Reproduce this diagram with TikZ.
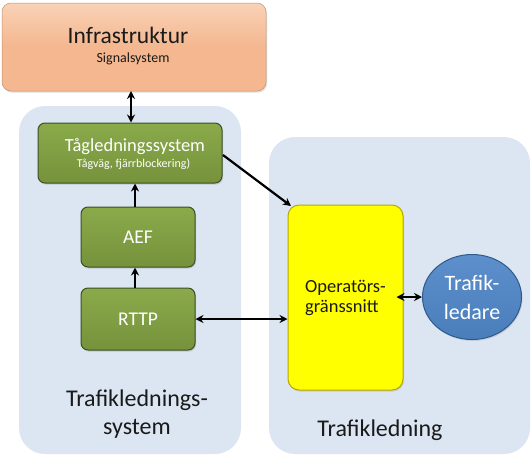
\documentclass[tikz,border=0pt]{standalone}
\usepackage{fontspec}
\setmainfont{Carlito}
\usetikzlibrary{arrows.meta,shapes.geometric,shadows}
\definecolor{panelblue}{HTML}{DCE6F2}
\definecolor{orangefill}{HTML}{F4B78F}
\definecolor{orangetop}{HTML}{F9D2B6}
\definecolor{greenfill}{HTML}{76923C}
\definecolor{greentop}{HTML}{8AAA4A}
\definecolor{greenedge}{HTML}{3D4F24}
\definecolor{yellowfill}{HTML}{FFFF00}
\definecolor{yellowedge}{HTML}{B5A800}
\definecolor{bluefill}{HTML}{4A7EBB}
\definecolor{bluetop}{HTML}{5C8FCB}
\definecolor{blueedge}{HTML}{2F5A8C}
\definecolor{textdark}{HTML}{1A1A1A}
\tikzset{
  x=1pt,y=-1pt,
  panel/.style={fill=panelblue,draw=none,rounded corners=26pt},
  orangebox/.style={rounded corners=9pt,top color=orangetop,bottom color=orangefill,middle color=orangefill,draw=orangefill!80!black,line width=0.5pt,drop shadow={opacity=0.25,shadow xshift=1pt,shadow yshift=-1.5pt}},
  greenbox/.style={rounded corners=7pt,top color=greentop,bottom color=greenfill,draw=greenedge,line width=1pt,text=white,align=center,drop shadow={opacity=0.3,shadow xshift=1pt,shadow yshift=-1.5pt}},
  yellowbox/.style={rounded corners=11pt,fill=yellowfill,draw=yellowedge,line width=1pt,drop shadow={opacity=0.25,shadow xshift=1pt,shadow yshift=-1.5pt}},
  bluenode/.style={ellipse,top color=bluetop,bottom color=bluefill,draw=blueedge,line width=1pt,text=white,align=center,inner sep=0pt,drop shadow={opacity=0.25,shadow xshift=1pt,shadow yshift=-1.5pt}},
  conn/.style={line width=2.2pt,-{Stealth[length=8pt,width=8pt]}},
  biconn/.style={line width=2.2pt,{Stealth[length=8pt,width=8pt]}-{Stealth[length=8pt,width=8pt]}},
}
\begin{document}
\begin{tikzpicture}
\useasboundingbox (0,0) rectangle (532,456);
% panels
\path[panel] (19,106) rectangle (241,454);
\path[panel] (269,137) rectangle (530,454);
% infrastruktur
\path[orangebox] (2,3) rectangle (266,91);
\node (infra) at (134,47) [minimum width=264pt,minimum height=88pt] {};
\node[text=textdark,font=\fontsize{23.5}{26}\selectfont,anchor=base] (infratxt) at (128,43) {Infrastruktur};
\node[text=textdark,font=\fontsize{14}{16}\selectfont,anchor=base] (sigtxt) at (133,62) {Signalsystem};
% green boxes
\node[greenbox,minimum width=184pt,minimum height=60pt] (tag) at (130,153) {};
\node[text=white,font=\fontsize{18.5}{20}\selectfont,anchor=base] (tagtxt) at (135,151) {Tågledningssystem};
\node[text=white,font=\fontsize{12}{14}\selectfont,anchor=base] (tagsub) at (133.5,167) {Tågväg, fjärrblockering)};
\node[greenbox,minimum width=114pt,minimum height=60pt,font=\fontsize{19.5}{21}\selectfont] (aef) at (138,237) {AEF};
\node[greenbox,minimum width=114pt,minimum height=62pt,font=\fontsize{19.5}{21}\selectfont] (rttp) at (138,319) {RTTP};
% yellow
\node[yellowbox,minimum width=115pt,minimum height=185pt,align=left,text=textdark,font=\fontsize{18.5}{20}\selectfont] (op) at (345.5,297.5) {Operatörs-\\gränssnitt};
% ellipse
\node[bluenode,minimum width=99pt,minimum height=85pt,font=\fontsize{22}{29}\selectfont] (traf) at (472,297) {Trafik-\\ledare};
% panel labels
\node[align=center,text=textdark,font=\fontsize{24}{28}\selectfont] (lbl1) at (137,414) {Trafiklednings-\\system};
\node[text=textdark,font=\fontsize{24}{26}\selectfont] (lbl2) at (380,430) {Trafikledning};
% connectors
\coordinate (i1) at (131,91);
\draw[biconn] (i1) -- (i1 |- tag.north);
\coordinate (a1) at (135,207);
\draw[conn] (a1) -- (a1 |- tag.south);
\coordinate (r1) at (135,288);
\draw[conn] (r1) -- (r1 |- aef.south);
\coordinate (t1) at (223,155);
\coordinate (o1) at (291,206);
\draw[conn] (t1) -- (o1);
\draw[biconn] (rttp.east) -- (rttp.east -| op.west);
\draw[biconn] ([xshift=-7pt]op.east |- traf.west) -- (traf.west);
\end{tikzpicture}
\end{document}
